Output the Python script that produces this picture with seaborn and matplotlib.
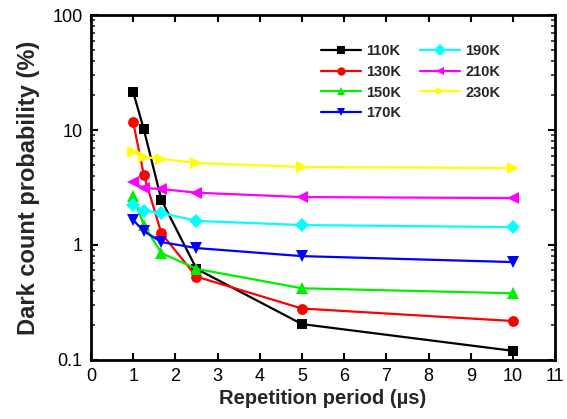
import matplotlib
matplotlib.use("Agg")
import matplotlib.pyplot as plt
import seaborn as sns
import pandas as pd
from matplotlib.ticker import LogLocator, NullFormatter, FixedLocator
from matplotlib.lines import Line2D

periods = [1.0, 1.25, 1.67, 2.5, 5.0, 10.0]
temps = ["110K", "130K", "150K", "170K", "190K", "210K", "230K"]
v110 = [21.4, 10.2, 2.46, 0.62, 0.205, 0.12]
v130 = [11.7, 4.1, 1.26, 0.53, 0.28, 0.218]
v150 = [2.65, 1.49, 0.85, 0.62, 0.42, 0.38]
v170 = [1.65, 1.32, 1.06, 0.94, 0.80, 0.71]
v190 = [2.23, 1.99, 1.9, 1.62, 1.49, 1.43]
v210 = [3.5, 3.13, 3.07, 2.85, 2.61, 2.56]
v230 = [6.4, 5.83, 5.6, 5.17, 4.77, 4.67]
series = [v110, v130, v150, v170, v190, v210, v230]
colors = ["#000000", "#ff0000", "#00ee00", "#0000ff", "#00ffff", "#ff00ff", "#ffff00"]
markers = ["s", "o", "^", "v", "D", "<", ">"]

rows = []
for t, vals in zip(temps, series):
    for p, v in zip(periods, vals):
        rows.append({"period": p, "prob": v, "T": t})
df = pd.DataFrame(rows)

sns.set_style("ticks")
plt.rcParams["font.family"] = ["Liberation Sans", "DejaVu Sans"]

fig = plt.figure(figsize=(5.67, 4.19), dpi=100)
ax = fig.add_axes([0.1605, 0.141, 0.8185, 0.823])

sizes = {"s": 7, "o": 7.8, "^": 8.7, "v": 8.7, "D": 6.8, "<": 8.7, ">": 8.7}
for t, c, m in zip(temps, colors, markers):
    sub = df[df["T"] == t]
    sns.lineplot(data=sub, x="period", y="prob", ax=ax, color=c, marker=m,
                 markersize=sizes[m], markeredgewidth=0, linewidth=1.6,
                 label=t, legend=False)

ax.set_yscale("log")
ax.set_xlim(0, 11)
ax.set_ylim(0.1, 100)
ax.xaxis.set_major_locator(FixedLocator(range(0, 12)))
ax.set_yticks([0.1, 1, 10, 100])
ax.set_yticklabels(["0.1", "1", "10", "100"])
ax.yaxis.set_minor_locator(LogLocator(base=10, subs=range(2, 10)))
ax.yaxis.set_minor_formatter(NullFormatter())
ax.tick_params(axis="both", which="major", direction="in", length=5, width=1.5,
               top=True, right=True, labelsize=13, colors="black", pad=6)
ax.tick_params(axis="y", which="minor", direction="in", length=3, width=1.2, right=True)
for s in ax.spines.values():
    s.set_linewidth(2)
    s.set_color("black")

ax.set_xlabel("Repetition period (\u00b5s)", fontsize=14.5, fontweight="bold", labelpad=3)
ax.set_ylabel("Dark count probability (%)", fontsize=17, fontweight="bold", labelpad=9)

handles = []
for t, c, m in zip(temps, colors, markers):
    handles.append(Line2D([0], [0], color=c, marker=m, markersize=6, markeredgewidth=0,
                          linewidth=1.6, label=t))
leg = ax.legend(handles=handles, ncol=2, frameon=False, loc="upper left",
                bbox_to_anchor=(0.496, 0.915), prop={"weight": "bold", "size": 10.5},
                handlelength=2.7, handletextpad=0.4, columnspacing=1.3,
                labelspacing=0.45, borderpad=0, borderaxespad=0)

fig.savefig("out.png", dpi=100)
